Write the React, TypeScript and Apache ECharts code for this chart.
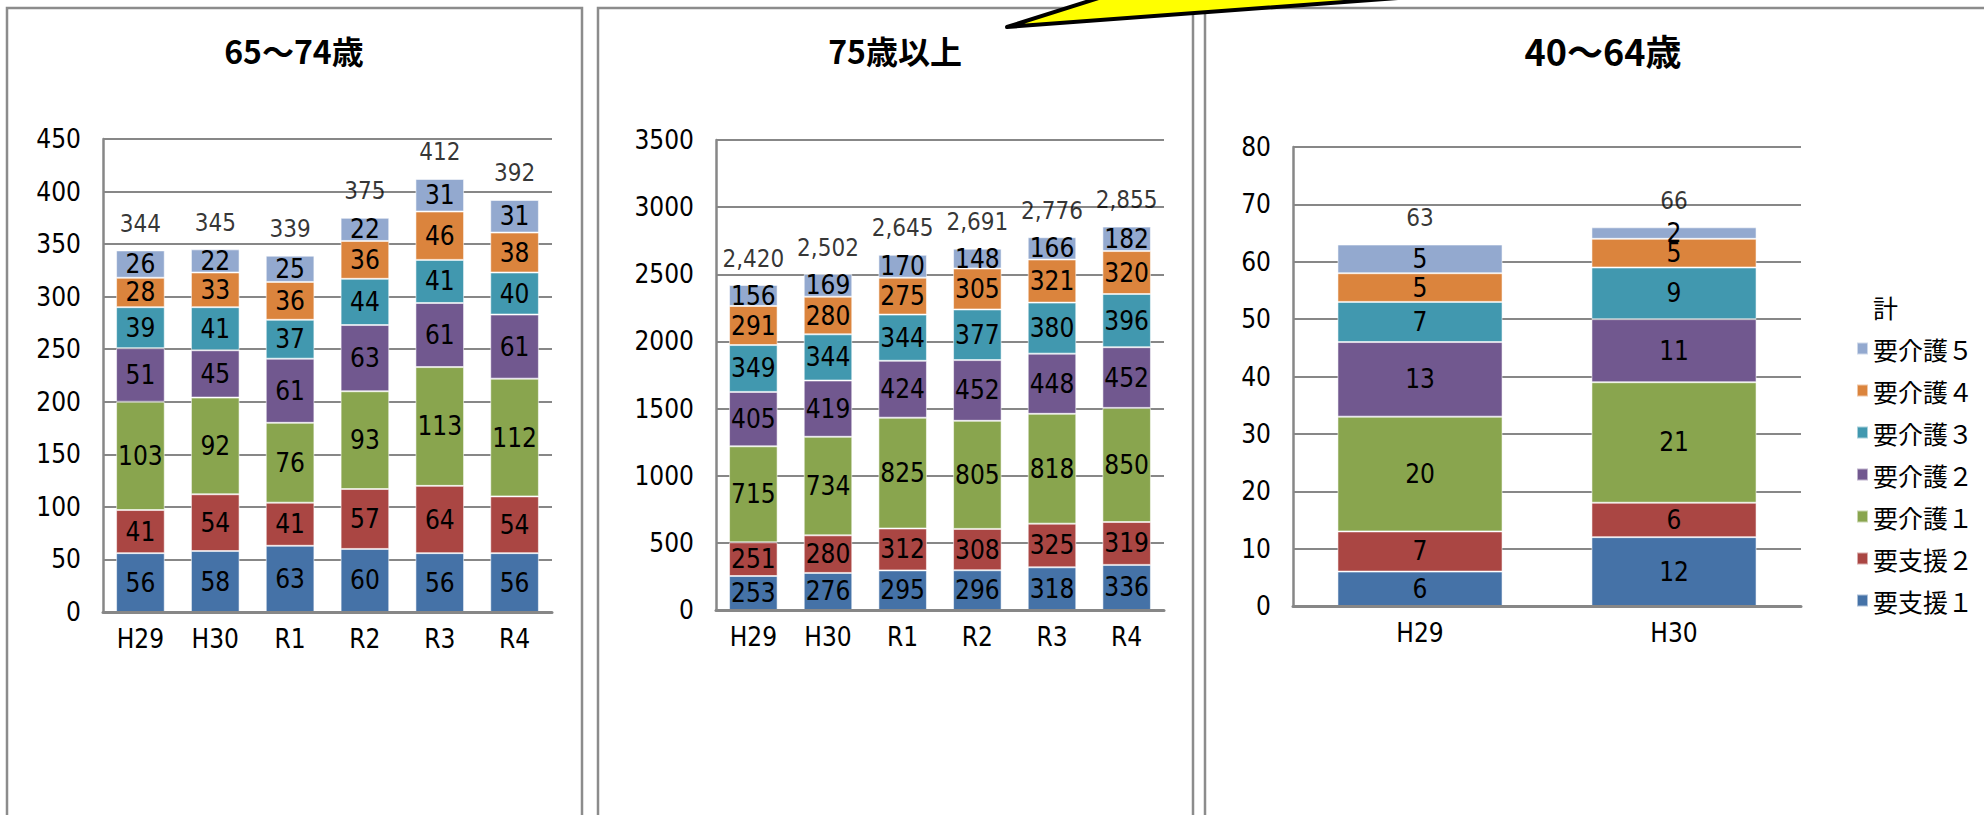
import React, { useEffect, useRef } from 'react';
import * as echarts from 'echarts';

// ---- categories / names ----
const CATEGORIES_6 = ['H29', 'H30', 'R1', 'R2', 'R3', 'R4'];
const CATEGORIES_2 = ['H29', 'H30'];
const SERIES_NAMES = ['要支援１', '要支援２', '要介護１', '要介護２', '要介護３', '要介護４', '要介護５'];
const SERIES_COLORS = ['#4572A7', '#AA4643', '#89A54E', '#71588F', '#4198AF', '#DB843D', '#93A9CF'];
const TOTAL_NAME = '計';
const PANEL_TITLES = ['65～74歳', '75歳以上', '40～64歳'];

// ---- 65～74歳 ----
const A_SHIEN1 = [56, 58, 63, 60, 56, 56];
const A_SHIEN2 = [41, 54, 41, 57, 64, 54];
const A_KAIGO1 = [103, 92, 76, 93, 113, 112];
const A_KAIGO2 = [51, 45, 61, 63, 61, 61];
const A_KAIGO3 = [39, 41, 37, 44, 41, 40];
const A_KAIGO4 = [28, 33, 36, 36, 46, 38];
const A_KAIGO5 = [26, 22, 25, 22, 31, 31];
const A_TOTAL = [344, 345, 339, 375, 412, 392];

// ---- 75歳以上 ----
const B_SHIEN1 = [253, 276, 295, 296, 318, 336];
const B_SHIEN2 = [251, 280, 312, 308, 325, 319];
const B_KAIGO1 = [715, 734, 825, 805, 818, 850];
const B_KAIGO2 = [405, 419, 424, 452, 448, 452];
const B_KAIGO3 = [349, 344, 344, 377, 380, 396];
const B_KAIGO4 = [291, 280, 275, 305, 321, 320];
const B_KAIGO5 = [156, 169, 170, 148, 166, 182];
const B_TOTAL = [2420, 2502, 2645, 2691, 2776, 2855];

// ---- 40～64歳 ----
const C_SHIEN1 = [6, 12];
const C_SHIEN2 = [7, 6];
const C_KAIGO1 = [20, 21];
const C_KAIGO2 = [13, 11];
const C_KAIGO3 = [7, 9];
const C_KAIGO4 = [5, 5];
const C_KAIGO5 = [5, 2];
const C_TOTAL = [63, 66];

// ---- axis ranges ----
const Y_MAX = [450, 3500, 80];
const Y_INTERVAL = [50, 500, 10];

const NUM_FONT = "'Liberation Sans Narrow', 'DejaVu Sans Condensed', 'Liberation Sans', sans-serif";
const CJK_FONT = "'Liberation Sans Narrow', 'Noto Sans CJK JP', sans-serif";
const GRAY = '#878787';

export default function App() {
  const ref = useRef<HTMLDivElement>(null);

  useEffect(() => {
    if (!ref.current) return;
    const chart = echarts.init(ref.current, undefined, { renderer: 'svg' });

    const panels = [
      { cats: CATEGORIES_6, data: [A_SHIEN1, A_SHIEN2, A_KAIGO1, A_KAIGO2, A_KAIGO3, A_KAIGO4, A_KAIGO5], total: A_TOTAL },
      { cats: CATEGORIES_6, data: [B_SHIEN1, B_SHIEN2, B_KAIGO1, B_KAIGO2, B_KAIGO3, B_KAIGO4, B_KAIGO5], total: B_TOTAL },
      { cats: CATEGORIES_2, data: [C_SHIEN1, C_SHIEN2, C_KAIGO1, C_KAIGO2, C_KAIGO3, C_KAIGO4, C_KAIGO5], total: C_TOTAL },
    ];

    const grids = [
      { left: 103, right: 1432, top: 139, bottom: 203 },
      { left: 716, right: 820, top: 140, bottom: 205 },
      { left: 1293, right: 183, top: 147, bottom: 209 },
    ];

    const xAxes = panels.map((p, i) => ({
      type: 'category',
      gridIndex: i,
      data: p.cats,
      axisLine: { show: true, lineStyle: { color: GRAY, width: 3 } },
      axisTick: { show: false },
      axisLabel: { fontSize: 26, color: '#000', margin: 14, fontFamily: NUM_FONT },
      z: 5,
    }));

    const yAxes = panels.map((p, i) => ({
      type: 'value',
      gridIndex: i,
      min: 0,
      max: Y_MAX[i],
      interval: Y_INTERVAL[i],
      axisLine: { show: true, lineStyle: { color: GRAY, width: 2.5 } },
      axisTick: { show: false },
      splitLine: { show: true, lineStyle: { color: GRAY, width: 2 } },
      axisLabel: {
        fontSize: 26,
        color: '#000',
        margin: 22,
        fontFamily: NUM_FONT,
        formatter: (v: number) => String(v),
      },
    }));

    const series: any[] = [];
    panels.forEach((p, pi) => {
      p.data.forEach((vals, si) => {
        series.push({
          type: 'bar',
          name: SERIES_NAMES[si],
          stack: 'panel' + pi,
          xAxisIndex: pi,
          yAxisIndex: pi,
          data: vals,
          barWidth: '65%',
          itemStyle: { color: SERIES_COLORS[si], borderColor: 'rgba(255,255,255,0.55)', borderWidth: 1 },
          label: {
            show: true,
            position: 'inside',
            fontSize: 26,
            color: '#000',
            textBorderWidth: 0,
            fontFamily: NUM_FONT,
          },
          silent: true,
        });
      });
      series.push({
        type: 'scatter',
        name: TOTAL_NAME,
        xAxisIndex: pi,
        yAxisIndex: pi,
        data: p.total,
        symbolSize: 1,
        itemStyle: { color: 'rgba(0,0,0,0)' },
        label: {
          show: true,
          position: 'top',
          distance: 14,
          fontSize: 24,
          color: '#000',
          fontFamily: NUM_FONT,
          formatter: (prm: any) => Number(prm.value).toLocaleString('en-US'),
        },
        silent: true,
        z: 10,
      });
    });

    const titleX = [294, 895, 1603];
    const titleSize = [32, 32, 36];

    const option: any = {
      animation: false,
      backgroundColor: '#fff',
      grid: grids,
      xAxis: xAxes,
      yAxis: yAxes,
      legend: {
        orient: 'vertical',
        left: 1851,
        top: 289,
        itemWidth: 11,
        itemHeight: 12,
        itemGap: 17,
        selectedMode: false,
        data: [{ name: TOTAL_NAME, icon: 'none' }, ...SERIES_NAMES.slice().reverse().map((n) => ({ name: n, icon: 'rect' }))],
        textStyle: { fontSize: 25, lineHeight: 25, color: '#000', fontFamily: CJK_FONT },
      },
      series,
      graphic: [
        { type: 'rect', shape: { x: 7, y: 8, width: 575, height: 900 }, style: { fill: 'none', stroke: '#8c8c8c', lineWidth: 2.5 }, z: 0 },
        { type: 'rect', shape: { x: 598, y: 8, width: 595, height: 900 }, style: { fill: 'none', stroke: '#8c8c8c', lineWidth: 2.5 }, z: 0 },
        { type: 'rect', shape: { x: 1205, y: 8, width: 900, height: 900 }, style: { fill: 'none', stroke: '#8c8c8c', lineWidth: 2.5 }, z: 0 },
        ...PANEL_TITLES.map((t, i) => ({
          type: 'text',
          x: titleX[i],
          y: 50,
          style: {
            text: t,
            fontSize: titleSize[i],
            fontWeight: 'bold',
            fill: '#000',
            align: 'center',
            verticalAlign: 'middle',
            fontFamily: CJK_FONT,
          },
          z: 20,
        })),
        {
          type: 'polygon',
          shape: { points: [[1007, 27], [1105, -4], [1425, -4]] },
          style: { fill: '#FFFF00', stroke: '#000', lineWidth: 4, lineJoin: 'round' },
          z: 30,
        },
      ],
    };

    chart.setOption(option);
    return () => chart.dispose();
  }, []);

  return (
    <div
      ref={ref}
      style={{ position: 'fixed', left: 0, top: 0, width: 1984, height: 815, background: '#fff' }}
    />
  );
}
